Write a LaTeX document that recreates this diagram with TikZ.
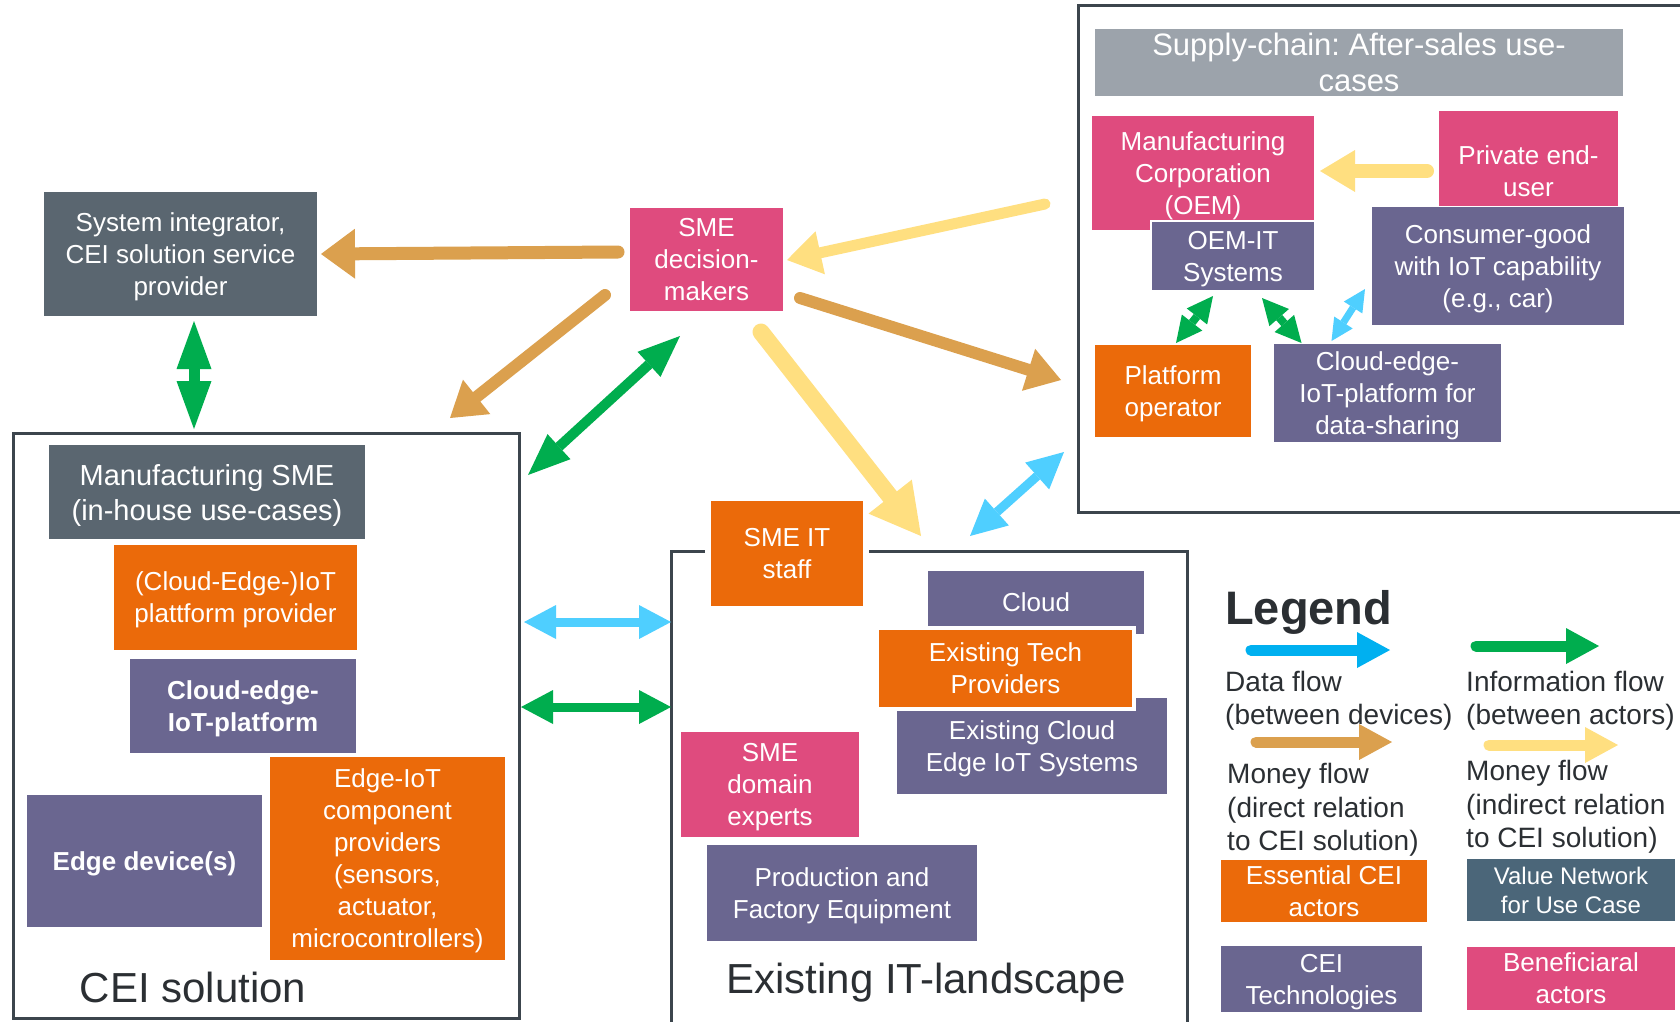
\documentclass[tikz,border=0pt]{standalone}
\usepackage{fontspec}
\setmainfont{Liberation Sans}
\usetikzlibrary{arrows.meta,calc}
\definecolor{cpink}{HTML}{DF4B7E}
\definecolor{cpurple}{HTML}{6A6690}
\definecolor{corange}{HTML}{EB6A0A}
\definecolor{cslate}{HTML}{5A6670}
\definecolor{chdr}{HTML}{9CA3AB}
\definecolor{cvalue}{HTML}{4B6679}
\definecolor{cbrown}{HTML}{DBA04E}
\definecolor{cyellow}{HTML}{FFDF80}
\definecolor{cgreen}{HTML}{00AD4E}
\definecolor{ccyan}{HTML}{4FCFFF}
\definecolor{cblue}{HTML}{00B0F0}
\definecolor{cframe}{HTML}{3C454D}
\definecolor{ctext}{HTML}{2B2F33}
\begin{document}
\frenchspacing
\begin{tikzpicture}[x=1pt,y=-1pt,
  box/.style={anchor=north west, inner sep=0pt, outer sep=0pt, align=center, text=white,
    text depth=0pt, font=\fontsize{26}{32}\selectfont},
  frame/.style={anchor=north west, inner sep=0pt, outer sep=0pt, draw=cframe, line width=3pt},
  legtext/.style={anchor=base west, inner sep=0pt, text=ctext, font=\fontsize{28}{33}\selectfont},
  biglabel/.style={inner sep=0pt, text=ctext, font=\fontsize{42}{48}\selectfont},
  arr/.style n args={4}{draw=#4, line width=#1pt, line cap=round,
    -{Triangle[length=#2pt,width=#3pt,line width'=0pt]}},
  darr/.style n args={4}{draw=#4, line width=#1pt,
    {Triangle[length=#2pt,width=#3pt,line width'=0pt]}-{Triangle[length=#2pt,width=#3pt,line width'=0pt]}}
]
\useasboundingbox (0,0) rectangle (1680,1021);
\clip (0,0) rectangle (1680,1021);
\fill[white] (0,0) rectangle (1680,1021);

% ---------- frames ----------
\node[frame, minimum width=612pt, minimum height=507pt] (supframe) at (1078,5) {};
\node[frame, minimum width=506pt, minimum height=585pt] (ceiframe) at (13,433) {};
\node[frame, minimum width=516pt, minimum height=480pt] (itframe) at (671,551) {};

% ---------- supply chain ----------
\node[box, fill=chdr, minimum width=528pt, minimum height=67pt,
  font=\fontsize{31}{36}\selectfont] (supplyhdr) at (1095,29) {Supply-chain: After-sales use-\\cases};
\node[box, fill=cpink, minimum width=222pt, minimum height=114pt] (oem) at (1092,116) {Manufacturing\\Corporation\\(OEM)};
\node[box, fill=cpink, minimum width=179pt, minimum height=95pt] (enduser) at (1439,111) {\rule{0pt}{43pt}Private end-\\user};
\node[box, fill=cpurple, draw=white, line width=1.5pt, minimum width=164pt, minimum height=70pt] (oemit) at (1151,221) {OEM-IT\\Systems};
\node[box, fill=cpurple, minimum width=252pt, minimum height=118pt] (consumer) at (1372,207) {Consumer-good\\with IoT capability\\(e.g., car)};
\node[box, fill=corange, minimum width=156pt, minimum height=92pt] (platop) at (1095,345) {Platform\\operator};
\node[box, fill=cpurple, minimum width=227pt, minimum height=98pt] (cedata) at (1274,344) {Cloud-edge-\\IoT-platform for\\data-sharing};

% ---------- top left ----------
\node[box, fill=cslate, minimum width=273pt, minimum height=124pt] (sysint) at (44,192) {System integrator,\\CEI solution service\\provider};
\node[box, fill=cpink, minimum width=153pt, minimum height=103pt] (smedm) at (630,208) {SME\\decision-\\makers};

% ---------- CEI solution ----------
\node[box, fill=cslate, minimum width=316pt, minimum height=94pt,
  font=\fontsize{29}{35}\selectfont] (mansme) at (49,445) {Manufacturing SME\\(in-house use-cases)};
\node[box, fill=corange, minimum width=243pt, minimum height=105pt] (plprov) at (114,545) {(Cloud-Edge-)IoT\\plattform provider};
\node[box, fill=cpurple, minimum width=226pt, minimum height=94pt,
  font=\fontsize{26}{32}\selectfont\bfseries] (ceplat) at (130,659) {Cloud-edge-\\IoT-platform};
\node[box, fill=cpurple, minimum width=235pt, minimum height=132pt,
  font=\fontsize{26}{32}\selectfont\bfseries] (edgedev) at (27,795) {Edge device(s)};
\node[box, fill=corange, minimum width=235pt, minimum height=203pt] (edgeiot) at (270,757) {Edge-IoT\\component\\providers\\(sensors,\\actuator,\\microcontrollers)};
\node[biglabel] (ceilabel) at (193,987) {CEI solution};

% ---------- existing IT ----------
\node[box, fill=corange, draw=white, line width=6pt, minimum width=158pt, minimum height=111pt] (smeit) at (708,498) {SME IT\\staff};
\node[box, fill=cpurple, minimum width=270pt, minimum height=96pt] (extce) at (897,698) {Existing Cloud\\Edge IoT Systems};
\node[box, fill=cpurple, minimum width=216pt, minimum height=63pt] (cloud) at (928,571) {Cloud};
\node[box, fill=corange, draw=white, line width=4pt, minimum width=257pt, minimum height=81pt] (exttech) at (877,628) {Existing Tech\\Providers};
\node[box, fill=cpink, minimum width=178pt, minimum height=105pt] (smedom) at (681,732) {SME\\domain\\experts};
\node[box, fill=cpurple, minimum width=270pt, minimum height=96pt] (prodeq) at (707,845) {Production and\\Factory Equipment};
\node[biglabel] (itlabel) at (926,983) {Existing IT-landscape};

% ---------- arrows ----------
% supply chain internal
\draw[arr={14}{35}{42}{cyellow}] ($(enduser.west)+(-12,12.5)$) -- ($(oem.east)+(6,-2)$);
\draw[darr={8}{26}{26}{cgreen}] ($(oemit.south)+(-20,5)$) -- ($(platop.north)+(3,-2)$);
\draw[darr={8}{26}{26}{cgreen}] ($(oemit.south)+(29,7)$) -- ($(cedata.north)+(-86,-1)$);
\draw[darr={7}{22}{22}{ccyan}] ($(consumer.west)+(-7,23)$) -- ($(cedata.north)+(-56,-3)$);

% around SME decision makers
\draw[arr={13}{34}{50}{cbrown}] ($(smedm.west)+(-12,-7.5)$) -- ($(sysint.east)+(4,0)$);
\draw[darr={11}{48}{35}{cgreen}] ($(sysint.south)+(13.5,5)$) -- ($(ceiframe.north)+(-72,-4)$);
\draw[arr={12}{34}{44}{cbrown}] ($(smedm.west)+(-25,35.5)$) -- ($(ceiframe.north east)+(-69,-15)$);
\draw[darr={10}{42}{34}{cgreen}] ($(smedm.south)+(-26.5,25)$) -- ($(ceiframe.north east)+(9,42)$);
\draw[arr={11}{34}{44}{cyellow}] ($(supframe.west)+(-33,-54.5)$) -- ($(smedm.east)+(4,0.5)$);
\draw[arr={12}{34}{44}{cbrown}] ($(smedm.east)+(17,38.5)$) -- ($(supframe.west)+(-17,121.5)$);
\draw[arr={17}{50}{55}{cyellow}] ($(smedm.south)+(54.5,21)$) -- ($(itframe.north)+(-8,-15)$);
\draw[darr={9}{36}{36}{ccyan}] ($(itframe.north)+(41,-15)$) -- ($(supframe.south west)+(-14,-60)$);
\draw[darr={9}{32}{34}{ccyan}] ($(ceiframe.north east)+(5,189)$) -- ($(itframe.north west)+(0,71)$);
\draw[darr={9}{32}{34}{cgreen}] ($(ceiframe.north east)+(2,274)$) -- ($(itframe.north west)+(0,156)$);

% ---------- legend ----------
\node[anchor=base west, inner sep=0pt, text=ctext, font=\fontsize{47}{52}\selectfont\bfseries] (legtitle) at (1225,624) {Legend};
\node[legtext] (ldata1) at (1225,691) {Data flow};
\node[legtext] (ldata2) at (1225,724) {(between devices)};
\node[legtext] (linfo1) at (1466,691) {Information flow};
\node[legtext] (linfo2) at (1466,724) {(between actors)};
\node[legtext] (lmd1) at (1227,783) {Money flow};
\node[legtext] (lmd2) at (1227,817) {(direct relation};
\node[legtext] (lmd3) at (1227,850) {to CEI solution)};
\node[legtext] (lmi1) at (1466,780) {Money flow};
\node[legtext] (lmi2) at (1466,814) {(indirect relation};
\node[legtext] (lmi3) at (1466,847) {to CEI solution)};

\draw[arr={11}{33}{36}{cblue}] ($(ldata1.base west)+(26,-41)$) -- ($(ldata1.base west)+(165,-41)$);
\draw[arr={11}{33}{36}{cgreen}] ($(linfo1.base west)+(10,-45)$) -- ($(linfo1.base west)+(133,-45)$);
\draw[arr={11}{33}{36}{cbrown}] ($(lmd1.base west)+(29,-41)$) -- ($(lmd1.base west)+(165,-41)$);
\draw[arr={11}{33}{36}{cyellow}] ($(lmi1.base west)+(23,-35)$) -- ($(lmi1.base west)+(152,-35)$);

\node[box, fill=corange, minimum width=206pt, minimum height=62pt] (lessential) at (1221,860) {Essential CEI\\actors};
\node[box, fill=cvalue, minimum width=208pt, minimum height=62pt,
  font=\fontsize{24}{29}\selectfont] (lvalue) at (1467,859) {Value Network\\for Use Case};
\node[box, fill=cpurple, minimum width=201pt, minimum height=66pt] (lcei) at (1221,946) {CEI\\Technologies};
\node[box, fill=cpink, minimum width=208pt, minimum height=63pt] (lbenef) at (1467,947) {Beneficiaral\\actors};
\end{tikzpicture}
\end{document}
